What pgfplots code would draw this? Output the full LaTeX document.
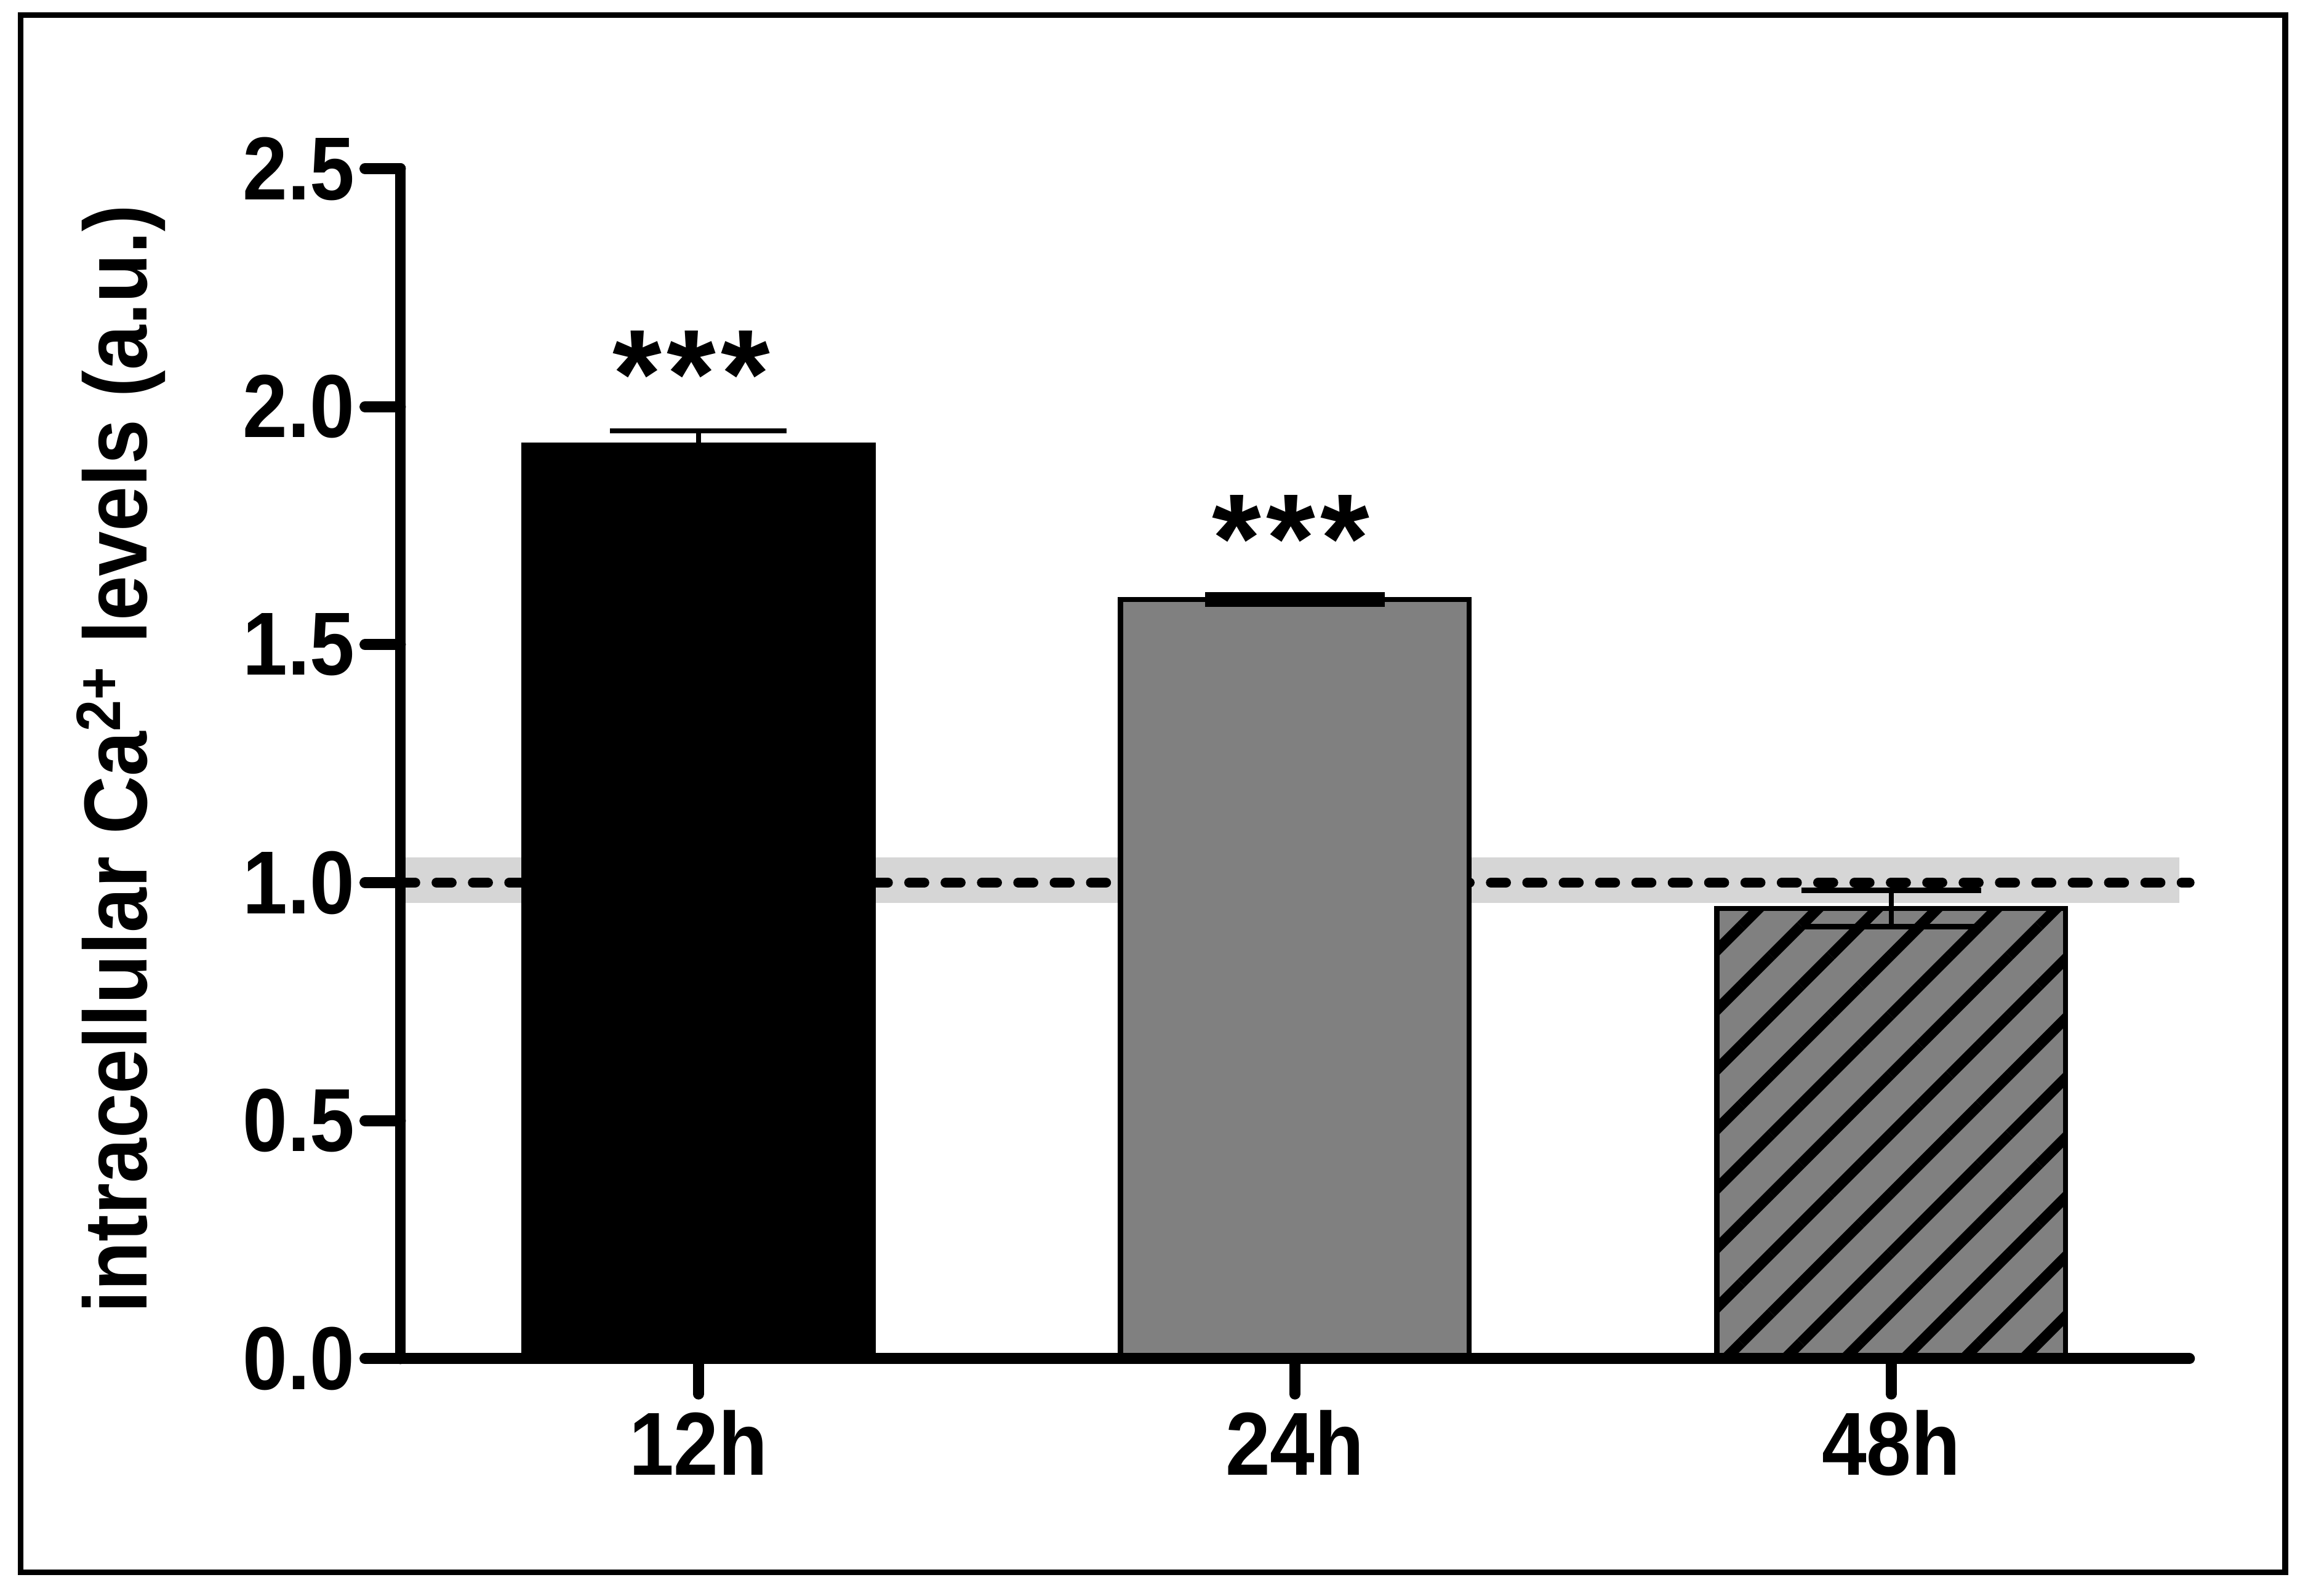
\documentclass[border=0pt]{standalone}
\usepackage{fontspec}
\setmainfont{Liberation Sans}[FakeStretch=0.9]
\newfontfamily\starfont{Liberation Sans}[LetterSpace=4]
\usepackage{pgfplots}
\pgfplotsset{compat=1.18}
\usetikzlibrary{patterns.meta}
\definecolor{bargray}{RGB}{128,128,128}
\definecolor{bandgray}{RGB}{214,214,214}
\begin{document}
\begin{tikzpicture}[x=1bp,y=1bp]
\path[use as bounding box] (-136,-80.5) rectangle (648,461.5);
\draw[line width=1.9bp] (-128.9,-72.5) rectangle (640.25,456.35);
\begin{axis}[
  at={(0,0)}, anchor=south west,
  scale only axis, width=607.7bp, height=404.2bp,
  xmin=-0.5, xmax=2.5, ymin=0, ymax=2.5,
  axis x line=bottom, axis y line=left,
  axis line style={-, line width=3.75bp, line cap=round},
  axis on top,
  xtick={0,1,2}, xticklabels={12h,24h,48h},
  ytick={0,0.5,1,1.5,2,2.5},
  tick align=outside,
  major tick length=12bp,
  major tick style={line width=3.75bp, line cap=round, black},
  tick label style={font=\bfseries\fontsize{30.5}{36}\selectfont},
  xticklabel style={yshift=-2bp},
  ylabel={intracellular Ca\textsuperscript{2+} levels (a.u.)},
  ylabel style={font=\bfseries\fontsize{30.5}{36}\selectfont, at={(axis description cs:-0.156,0.504)}, anchor=center},
  clip=false,
  yticklabel style={/pgf/number format/.cd, fixed, fixed zerofill, precision=1, assume math mode=true},
]
\addplot[draw=none, fill=bandgray, forget plot] coordinates {(-0.5,0.957) (2.483,0.957) (2.483,1.053) (-0.5,1.053)} -- cycle;
\addplot[black, line width=3.5bp, line cap=round, dash pattern=on 5bp off 7.35bp, forget plot] coordinates {(-0.5,1) (2.5,1)};

\addplot[ybar, bar width=0.585, bar shift=0pt, fill=black, draw=black, line width=1.75bp,
  error bars/.cd, y dir=both, y explicit,
  error bar style={line width=1.8bp, black},
  error mark options={rotate=90, mark size=30bp, line width=1.8bp, black}]
  coordinates {(0,1.919) +- (0,0.030)};
\addplot[ybar, bar width=0.585, bar shift=0pt, fill=bargray, draw=black, line width=1.75bp,
  error bars/.cd, y dir=both, y explicit,
  error bar style={line width=1.8bp, black},
  error mark options={rotate=90, mark size=30.5bp, line width=1.8bp, black}]
  coordinates {(1,1.595) +- (0,0.010)};
\addplot[ybar, bar width=0.585, bar shift=0pt, fill=bargray, draw=black, line width=1.75bp, forget plot]
  coordinates {(2,0.946)};
\addplot[ybar, bar width=0.585, bar shift=0pt, draw=black, line width=1.75bp,
  pattern={Lines[angle=45,distance=14.3bp,line width=3.6bp]}, pattern color=black,
  error bars/.cd, y dir=both, y explicit,
  error bar style={line width=1.8bp, black},
  error mark options={rotate=90, mark size=30.5bp, line width=1.8bp, black}]
  coordinates {(2,0.946) +- (0,0.038)};

\node[anchor=north, inner sep=0pt, font=\starfont\bfseries\fontsize{43}{43}\selectfont] at (axis cs:-0.012,2.161) {***};
\node[anchor=north, inner sep=0pt, font=\starfont\bfseries\fontsize{43}{43}\selectfont] at (axis cs:0.993,1.815) {***};
\end{axis}
\end{tikzpicture}
\end{document}
